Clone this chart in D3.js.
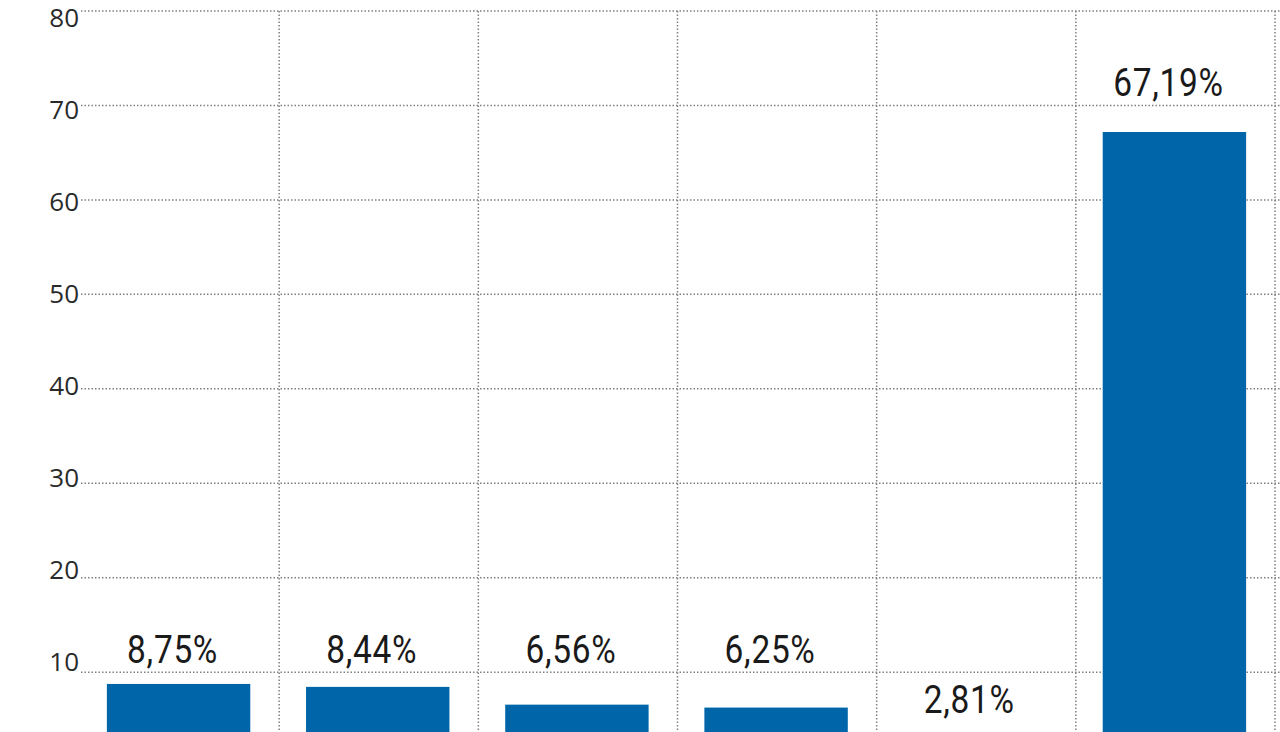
<!DOCTYPE html>
<html><head><meta charset="utf-8">
<script src="https://cdn.jsdelivr.net/npm/d3@7"></script>
<style>
html,body{margin:0;padding:0;background:#fff;overflow:hidden;}
svg{display:block;}
</style></head>
<body>
<svg id="chart" width="1280" height="732"></svg>
<script>
const categories = ["Cat. 1","Cat. 2","Cat. 3","Cat. 4","Cat. 5","Cat. 6"];
const values = [8.75, 8.44, 6.56, 6.25, 2.81, 67.19];
const valueLabels = ["8,75%","8,44%","6,56%","6,25%","2,81%","67,19%"];
const yTicks = [10,20,30,40,50,60,70,80];

const svg = d3.select("#chart");
const x = d3.scaleBand().domain(categories).range([80, 1275]).padding(0);
const y = d3.scaleLinear().domain([0, 80]).range([766.6, 11]);
// tick labels in the source drift slightly from their gridlines
const yLab = d3.scaleLinear().domain([10, 80]).range([662, 18]);
const gridColor = "#808080";

// horizontal gridlines
svg.append("g").selectAll("line").data(yTicks).join("line")
  .attr("x1", 81).attr("x2", 1280)
  .attr("y1", d => y(d)).attr("y2", d => y(d))
  .attr("stroke", gridColor).attr("stroke-width", 1.5)
  .attr("stroke-dasharray", "1.5,2");

// vertical gridlines at band boundaries
const bounds = categories.map(c => x(c) + x.bandwidth());
svg.append("g").selectAll("line").data(bounds).join("line")
  .attr("x1", d => d).attr("x2", d => d)
  .attr("y1", y(80)).attr("y2", 800)
  .attr("stroke", gridColor).attr("stroke-width", 1.5)
  .attr("stroke-dasharray", "1.5,2");

// y axis labels
const yAxis = d3.axisLeft(yLab).tickValues(yTicks).tickSize(0).tickPadding(1);
const ga = svg.append("g").attr("transform", "translate(80,0)").call(yAxis);
ga.select(".domain").remove();
ga.selectAll("text").attr("font-family", "'Open Sans', Roboto, sans-serif")
  .attr("font-size", 26).attr("fill", "#2a2a2a");

// bars
const barW = x.bandwidth() * 0.72;
svg.append("g").selectAll("rect").data(values).join("rect")
  .attr("x", (d, i) => x(categories[i]) + (x.bandwidth() - barW) / 2 - 1)
  .attr("width", barW)
  .attr("y", d => y(d))
  .attr("height", d => y(0) - y(d))
  .attr("fill", "#0066a9");

// value labels: sit above the nearest gridline over the bar, or just above short bars
function labelY(v) {
  const gl = Math.ceil(v / 10) * 10;
  return (gl - v > 5) ? y(v) - 28 : y(gl) - 10;
}
svg.append("g").selectAll("text").data(values).join("text")
  .attr("transform", (d, i) => `translate(${x(categories[i]) + x.bandwidth() / 2 - 7},${labelY(d) + 1}) scale(0.88,1)`)
  .attr("text-anchor", "middle")
  .attr("font-family", "Roboto, sans-serif")
  .attr("font-size", 38)
  .attr("letter-spacing", 0.8)
  .attr("fill", "#1a1a1a")
  .text((d, i) => valueLabels[i]);
</script>
</body></html>
